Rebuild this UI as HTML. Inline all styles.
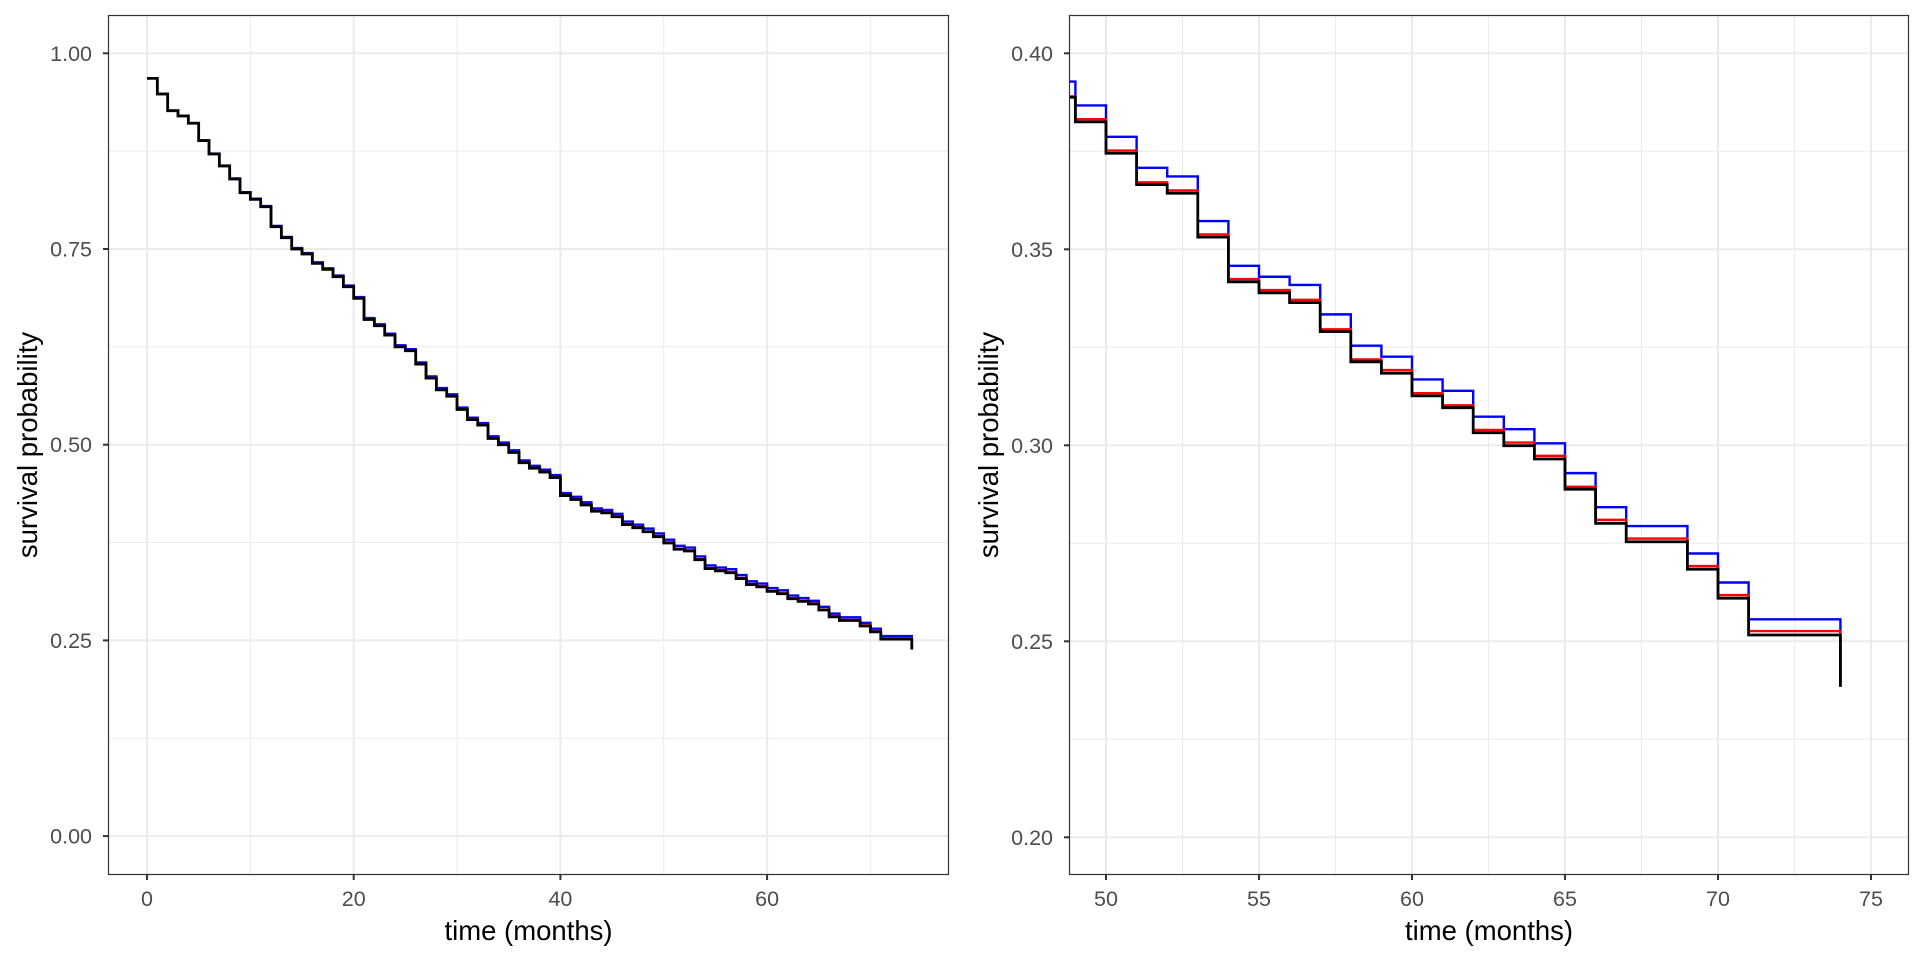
<!DOCTYPE html>
<html><head><meta charset="utf-8"><style>
html,body{margin:0;padding:0;background:#fff}
svg{display:block}
text{font-family:"Liberation Sans",Arial,sans-serif}
</style></head><body>
<svg id="s" width="1920" height="960" xmlns="http://www.w3.org/2000/svg"></svg>
<script>
const NS="http://www.w3.org/2000/svg";
const svg=document.getElementById('s');
function el(n,a,t){const e=document.createElementNS(NS,n);for(const k in a)e.setAttribute(k,a[k]);if(t!==undefined)e.textContent=t;svg.appendChild(e);return e;}
const early=[0.968,0.948,0.9267,0.920,0.9106,0.8884,0.8714,0.856,0.8394,0.8219,0.8135,0.804,0.7785,0.7644,0.75,0.7436,0.7317,0.724,0.7146,0.7018,0.687,
0.66,0.652,0.64,0.625,0.62,0.603,0.585,0.57,0.562,0.545,0.532,0.525,0.508,0.5,0.49,0.477,0.47,0.465,0.458,0.435,0.43,0.423,0.415,0.413,0.408,0.398,0.394,0.3888];
const late=[[49,0.3867,0.3832,0.3825],[50,0.3787,0.3752,0.3745],[51,0.3708,0.3671,0.3665],[52,0.3686,0.3650,0.3643],[53,0.3572,0.3538,0.3531],
[54,0.3458,0.3424,0.3417],[55,0.343,0.3396,0.3389],[56,0.3409,0.3371,0.3364],[57,0.3334,0.3296,0.3290],[58,0.3254,0.3219,0.3213],[59,0.3226,0.3192,0.3184],
[60,0.3168,0.3133,0.3126],[61,0.3139,0.3102,0.3096],[62,0.3073,0.3039,0.3032],[63,0.3041,0.3007,0.2999],[64,0.3005,0.2973,0.2965],[65,0.2929,0.2894,0.2888],
[66,0.2842,0.2810,0.2801],[67,0.2794,0.2762,0.2754],[68,0.2794,0.2762,0.2754],[69,0.2724,0.2692,0.2684],[70,0.2650,0.2618,0.2610],[71,0.2556,0.2526,0.2516],[72,0.2556,0.2526,0.2516],[73,0.2556,0.2526,0.2516]];
function series(idx){
  const pts=[];
  for(let t=0;t<early.length;t++){
    let v=early[t];
    if(t==48){v= idx==1?0.3928:(idx==2?0.389:0.3888);}
    else if(idx==1)v+=0.004*t/49; else if(idx==2)v+=0.0006*t/49;
    pts.push([t,v]);
  }
  for(const r of late)pts.push([r[0],r[idx]]);
  return pts;
}
function panel(cfg){
  const {x0,x1,y0,y1,tx,ty,xt,yt,xminor,yminor,ylab}=cfg;
  el('rect',{x:x0,y:y0,width:x1-x0,height:y1-y0,fill:'#fff'});
  for(const v of yminor)el('line',{x1:x0,x2:x1,y1:ty(v),y2:ty(v),stroke:'#ebebeb','stroke-width':1});
  for(const v of xminor)el('line',{y1:y0,y2:y1,x1:tx(v),x2:tx(v),stroke:'#ebebeb','stroke-width':1});
  for(const v of yt)el('line',{x1:x0,x2:x1,y1:ty(v),y2:ty(v),stroke:'#ebebeb','stroke-width':2});
  for(const v of xt)el('line',{y1:y0,y2:y1,x1:tx(v),x2:tx(v),stroke:'#ebebeb','stroke-width':2});
  const clip='c'+x0;
  const cp=document.createElementNS(NS,'clipPath');cp.setAttribute('id',clip);
  const cr=document.createElementNS(NS,'rect');cr.setAttribute('x',x0);cr.setAttribute('y',y0);cr.setAttribute('width',x1-x0);cr.setAttribute('height',y1-y0);cp.appendChild(cr);svg.appendChild(cp);
  const cols=['','#0000ff','#ff0000','#000000'];
  for(const idx of [1,2,3]){
    const p=series(idx);let d='';
    p.forEach((q,i)=>{const X=tx(q[0]),Y=ty(q[1]);
      if(i==0)d+=`M${X},${Y}`;else d+=`V${Y}`;d+=`H${tx(q[0]+1)}`;});
    d+=`V${ty(0.2384)}`;
    el('path',{d,fill:'none',stroke:cols[idx],'stroke-width':idx==3?2.8:2.4,'clip-path':`url(#${clip})`});
  }
  el('rect',{x:x0+0.5,y:y0+0.5,width:x1-x0-1,height:y1-y0-1,fill:'none',stroke:'#333','stroke-width':1.2});
  for(const v of yt){el('line',{x1:x0-5,x2:x0,y1:ty(v),y2:ty(v),stroke:'#333','stroke-width':2});
    el('text',{x:x0-16,y:ty(v)+7.5,'text-anchor':'end','font-size':21.5,fill:'#4d4d4d'},v.toFixed(2));}
  for(const v of xt){el('line',{y1:y1,y2:y1+5,x1:tx(v),x2:tx(v),stroke:'#333','stroke-width':2});
    el('text',{x:tx(v),y:906,'text-anchor':'middle','font-size':21.5,fill:'#4d4d4d'},String(v));}
  el('text',{x:(x0+x1)/2,y:940,'text-anchor':'middle','font-size':27.5,fill:'#000'},'time (months)');
  el('text',{x:0,y:0,'text-anchor':'middle','font-size':27.5,fill:'#000',transform:`translate(${ylab},${(y0+y1)/2}) rotate(-90)`},'survival probability');
}
panel({x0:108,x1:949,y0:15,y1:875,tx:t=>147+t*10.335,ty:v=>836.1-v*782.8,
  xt:[0,20,40,60],xminor:[10,30,50,70],yt:[0,0.25,0.5,0.75,1],yminor:[0.125,0.375,0.625,0.875],ylab:37});
panel({x0:1069,x1:1909,y0:15,y1:875,tx:t=>1106+(t-50)*30.6,ty:v=>53.3+(0.4-v)*3920,
  xt:[50,55,60,65,70,75],xminor:[52.5,57.5,62.5,67.5,72.5],yt:[0.2,0.25,0.3,0.35,0.4],yminor:[0.225,0.275,0.325,0.375],ylab:998});
</script>
</body></html>
